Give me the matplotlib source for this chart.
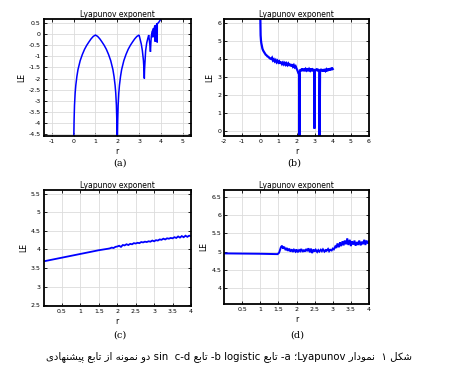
import matplotlib
matplotlib.use("Agg")
import matplotlib.pyplot as plt
from matplotlib.ticker import FuncFormatter
import numpy as np

# ---------------- data ----------------
# (a) logistic map
r_a = [0.0, 0.01, 0.02, 0.04, 0.07, 0.1, 0.15, 0.2, 0.3, 0.4, 0.5, 0.6, 0.7, 0.8, 0.9, 1.0,
       1.1, 1.2, 1.3, 1.4, 1.5, 1.6, 1.7, 1.8, 1.85, 1.9, 1.93, 1.96, 1.98, 1.99, 2.0,
       2.01, 2.02, 2.04, 2.07, 2.1, 2.15, 2.2, 2.3, 2.4, 2.5, 2.6, 2.7, 2.8, 2.9, 3.0,
       3.05, 3.1, 3.15, 3.2, 3.23, 3.24, 3.25, 3.3, 3.35, 3.4, 3.44, 3.46, 3.5, 3.52, 3.54,
       3.56, 3.58, 3.6, 3.62, 3.63, 3.64, 3.66, 3.68, 3.7, 3.72, 3.738, 3.74, 3.742, 3.76,
       3.78, 3.8, 3.82, 3.828, 3.83, 3.835, 3.86, 3.9, 3.94, 3.98, 4.0]
le_a = [-4.7, -4.5, -3.9, -3.2, -2.65, -2.3, -1.9, -1.6, -1.2, -0.92, -0.69, -0.51, -0.36, -0.22, -0.11, -0.05,
        -0.11, -0.22, -0.36, -0.51, -0.69, -0.92, -1.2, -1.6, -1.9, -2.3, -2.65, -3.2, -3.9, -4.5, -4.7,
        -4.5, -3.9, -3.2, -2.65, -2.3, -1.9, -1.6, -1.2, -0.92, -0.69, -0.51, -0.36, -0.22, -0.11, -0.05,
        -0.25, -0.45, -0.75, -1.2, -1.7, -2.0, -1.6, -0.75, -0.4, -0.2, -0.05, -0.2, -0.55, -0.8, -0.4,
        -0.1, 0.0, 0.1, 0.15, -0.15, 0.2, 0.25, 0.05, 0.3, 0.35, 0.36, -0.35, 0.36, 0.38,
        0.15, 0.42, 0.45, 0.45, -0.38, 0.46, 0.48, 0.52, 0.58, 0.64, 0.68]

# (b) sin map
r_b = [0.0, 0.01, 0.02, 0.04, 0.06, 0.09, 0.12, 0.16, 0.2, 0.25, 0.3, 0.35, 0.4, 0.45, 0.5, 0.55, 0.6,
       0.65, 0.7, 0.75, 0.8, 0.85, 0.9, 0.95, 1.0, 1.05, 1.1, 1.15, 1.2, 1.25, 1.3, 1.35, 1.4, 1.45,
       1.5, 1.55, 1.6, 1.65, 1.7, 1.75, 1.8, 1.85, 1.9, 1.95, 2.0, 2.05, 2.1, 2.14, 2.155, 2.165,
       2.18, 2.22, 2.26, 2.3, 2.35, 2.4, 2.45, 2.5, 2.55, 2.6, 2.65, 2.7, 2.75, 2.8, 2.85, 2.9, 2.95,
       2.975, 2.985, 2.995, 3.01, 3.05, 3.1, 3.15, 3.2, 3.25, 3.255, 3.265, 3.275, 3.3, 3.35, 3.4,
       3.45, 3.5, 3.55, 3.6, 3.65, 3.7, 3.75, 3.8, 3.85, 3.9, 3.95, 4.0]
le_b = [6.5, 5.9, 5.3, 5.0, 4.85, 4.7, 4.55, 4.45, 4.38, 4.3, 4.22, 4.18, 4.12, 4.1, 4.04, 4.0, 3.98,
        4.05, 3.9, 3.96, 3.85, 3.92, 3.8, 3.88, 3.78, 3.84, 3.72, 3.82, 3.7, 3.78, 3.68, 3.76, 3.66, 3.74,
        3.64, 3.72, 3.6, 3.7, 3.58, 3.68, 3.56, 3.64, 3.52, 3.58, 3.45, 3.35, 3.2, 3.15, -0.3, -0.3,
        3.25, 3.4, 3.3, 3.45, 3.32, 3.44, 3.3, 3.42, 3.35, 3.46, 3.3, 3.42, 3.34, 3.45, 3.3, 3.4, 3.36,
        3.3, 0.15, 0.15, 3.3, 3.42, 3.32, 3.44, 3.3, 3.38, 3.3, -0.3, -0.3, 3.3, 3.42, 3.3,
        3.4, 3.28, 3.42, 3.32, 3.4, 3.3, 3.44, 3.34, 3.46, 3.36, 3.5, 3.42]

# (c) proposed function, sample 1
r_c = [0.0, 0.25, 0.5, 0.75, 1.0, 1.25, 1.5, 1.75, 1.8, 1.85, 1.9, 1.95, 2.0, 2.05, 2.1, 2.15, 2.2,
       2.25, 2.3, 2.35, 2.4, 2.45, 2.5, 2.55, 2.6, 2.65, 2.7, 2.75, 2.8, 2.85, 2.9, 2.95, 3.0, 3.05,
       3.1, 3.15, 3.2, 3.25, 3.3, 3.35, 3.4, 3.45, 3.5, 3.55, 3.6, 3.65, 3.7, 3.75, 3.8, 3.85, 3.9,
       3.95, 4.0]
le_c = [3.68, 3.73, 3.78, 3.83, 3.88, 3.93, 3.98, 4.02, 4.03, 4.05, 4.04, 4.07, 4.08, 4.1, 4.07, 4.12, 4.11,
        4.14, 4.12, 4.15, 4.14, 4.17, 4.16, 4.18, 4.17, 4.2, 4.19, 4.21, 4.2, 4.22, 4.21, 4.24, 4.22, 4.25,
        4.24, 4.27, 4.26, 4.29, 4.27, 4.3, 4.29, 4.31, 4.3, 4.33, 4.31, 4.35, 4.32, 4.36, 4.33, 4.37, 4.34,
        4.37, 4.36]

# (d) proposed function, sample 2
r_d = [0.0, 0.5, 1.0, 1.48, 1.52, 1.55, 1.57, 1.6, 1.63, 1.66, 1.7, 1.73, 1.76, 1.8, 1.83, 1.87, 1.9,
       1.93, 1.97, 2.0, 2.03, 2.07, 2.1, 2.13, 2.17, 2.2, 2.23, 2.27, 2.3, 2.33, 2.37, 2.4, 2.43, 2.47,
       2.5, 2.53, 2.57, 2.6, 2.63, 2.67, 2.7, 2.73, 2.77, 2.8, 2.83, 2.87, 2.9, 2.93, 2.97, 3.0, 3.03,
       3.07, 3.1, 3.13, 3.17, 3.2, 3.23, 3.27, 3.3, 3.33, 3.37, 3.4, 3.43, 3.47, 3.5, 3.53, 3.57, 3.6,
       3.63, 3.67, 3.7, 3.73, 3.77, 3.8, 3.83, 3.87, 3.9, 3.93, 3.97, 4.0]
le_d = [4.95, 4.945, 4.94, 4.93, 4.97, 5.06, 5.12, 5.16, 5.08, 5.13, 5.04, 5.1, 5.02, 5.08, 5.0, 5.06, 4.99,
        5.05, 5.0, 5.06, 4.98, 5.04, 5.01, 5.07, 4.99, 5.05, 5.0, 5.07, 5.01, 5.09, 4.98, 5.08, 4.96, 5.06,
        5.0, 5.05, 4.99, 5.04, 5.0, 5.05, 5.01, 5.06, 5.0, 5.04, 5.02, 5.07, 5.01, 5.05, 5.03, 5.08, 5.06,
        5.14, 5.1, 5.22, 5.12, 5.25, 5.15, 5.28, 5.17, 5.3, 5.2, 5.36, 5.18, 5.32, 5.15, 5.28, 5.19, 5.3,
        5.16, 5.26, 5.18, 5.3, 5.17, 5.27, 5.2, 5.32, 5.18, 5.3, 5.22, 5.28]

title_text = "Lyapunov exponent"
panel_labels = ["(a)", "(b)", "(c)", "(d)"]

# ---------------- Persian shaping (presentation forms) ----------------
FORMS = {
    "\u0634": ("\uFEB5", "\uFEB6", "\uFEB7", "\uFEB8"),  # sheen
    "\u06A9": ("\uFB8E", "\uFB8F", "\uFB90", "\uFB91"),  # keheh
    "\u0644": ("\uFEDD", "\uFEDE", "\uFEDF", "\uFEE0"),  # lam
    "\u0646": ("\uFEE5", "\uFEE6", "\uFEE7", "\uFEE8"),  # noon
    "\u0645": ("\uFEE1", "\uFEE2", "\uFEE3", "\uFEE4"),  # meem
    "\u062A": ("\uFE95", "\uFE96", "\uFE97", "\uFE98"),  # teh
    "\u0628": ("\uFE8F", "\uFE90", "\uFE91", "\uFE92"),  # beh
    "\u0639": ("\uFEC9", "\uFECA", "\uFECB", "\uFECC"),  # ain
    "\u0647": ("\uFEE9", "\uFEEA", "\uFEEB", "\uFEEC"),  # heh
    "\u067E": ("\uFB56", "\uFB57", "\uFB58", "\uFB59"),  # peh
    "\u06CC": ("\uFBFC", "\uFBFD", "\uFBFE", "\uFBFF"),  # farsi yeh
    "\u0648": ("\uFEED", "\uFEEE"),  # waw
    "\u062F": ("\uFEA9", "\uFEAA"),  # dal
    "\u0627": ("\uFE8D", "\uFE8E"),  # alef
    "\u0631": ("\uFEAD", "\uFEAE"),  # reh
    "\u0632": ("\uFEAF", "\uFEB0"),  # zain
}


def shape(word):
    out = []
    n = len(word)
    for i, ch in enumerate(word):
        if ch not in FORMS:
            out.append(ch)
            continue
        f = FORMS[ch]
        prev = word[i - 1] if i > 0 else None
        nxt = word[i + 1] if i < n - 1 else None
        jp = prev in FORMS and len(FORMS[prev]) == 4
        jn = len(f) == 4 and nxt in FORMS
        if jp and jn:
            out.append(f[3])
        elif jp:
            out.append(f[1])
        elif jn:
            out.append(f[2])
        else:
            out.append(f[0])
    return "".join(reversed(out))


caption_tokens = [shape("پیشنهادی"), shape("تابع"), shape("از"), shape("نمونه"), shape("دو"),
                  "sin  c-d", shape("تابع"), "-b logistic", shape("تابع"), "-a",
                  "\u061BLyapunov", shape("نمودار"), " \u06F1", shape("شکل")]
caption = " ".join(caption_tokens)

# ---------------- figure ----------------
fig = plt.figure(figsize=(4.5, 3.78), dpi=100)
fig.patch.set_facecolor("white")

fmt = FuncFormatter(lambda v, p: "%g" % v)

specs = [
    dict(pos=[0.0967, 0.6402, 0.3278, 0.3095], x=r_a, y=le_a, xlim=(-1.38, 5.38), ylim=(-4.58, 0.67),
         xt=np.arange(-1, 6, 1), yt=np.arange(-4.5, 0.51, 0.5), lw=1.1),
    dict(pos=[0.4978, 0.6402, 0.3222, 0.3095], x=r_b, y=le_b, xlim=(-2, 6), ylim=(-0.3, 6.2),
         xt=np.arange(-2, 7, 1), yt=np.arange(0, 7, 1), lw=1.6),
    dict(pos=[0.0967, 0.1905, 0.3278, 0.3069], x=r_c, y=le_c, xlim=(0, 4), ylim=(2.48, 5.6),
         xt=np.arange(0.5, 4.01, 0.5), yt=np.arange(2.5, 5.51, 0.5), lw=1.3),
    dict(pos=[0.4978, 0.1958, 0.3222, 0.3016], x=r_d, y=le_d, xlim=(0, 4), ylim=(3.57, 6.68),
         xt=np.arange(0.5, 4.01, 0.5), yt=np.arange(4, 6.51, 0.5), lw=1.4),
]

for s in specs:
    ax = fig.add_axes(s["pos"])
    ax.plot(s["x"], s["y"], color="#0000ff", lw=s["lw"], solid_joinstyle="miter")
    ax.set_xlim(*s["xlim"])
    ax.set_ylim(*s["ylim"])
    ax.set_xticks(s["xt"])
    ax.set_yticks(s["yt"])
    ax.xaxis.set_major_formatter(fmt)
    ax.yaxis.set_major_formatter(fmt)
    ax.grid(True, color="#dcdcdc", lw=0.6)
    ax.set_axisbelow(True)
    for sp in ax.spines.values():
        sp.set_linewidth(1.3)
        sp.set_color("black")
    ax.tick_params(direction="in", length=2, width=0.6, labelsize=4.5, pad=2,
                   top=True, right=True)
    ax.set_title(title_text, fontsize=5.5, pad=1.5)
    ax.set_ylabel("LE", fontsize=5.5, labelpad=2)
    ax.set_xlabel("r", fontsize=5.5, labelpad=2)

label_pos = [(120, 163), (294, 163), (120, 335), (297, 335)]
for lab, (px, py) in zip(panel_labels, label_pos):
    fig.text(px / 450, 1 - py / 378, lab, fontsize=7, family="DejaVu Serif",
             ha="center", va="center")

fig.text(229 / 450, 1 - 357 / 378, caption, fontsize=7.3, family=["DejaVu Sans"],
         ha="center", va="center")

fig.savefig("out.png", dpi=100, facecolor="white")
